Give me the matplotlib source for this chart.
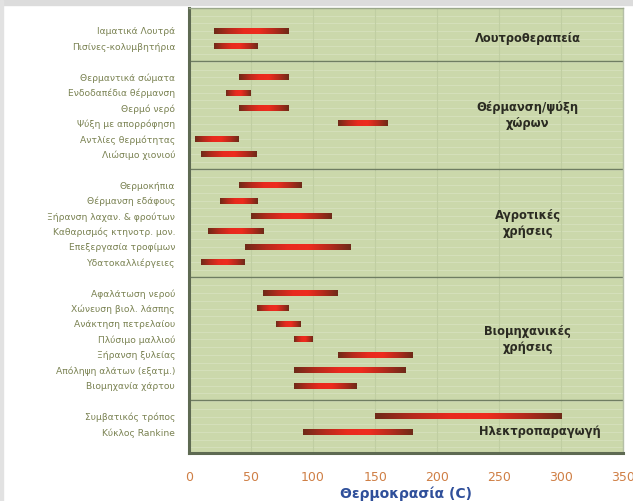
import numpy as np
import matplotlib
matplotlib.use("Agg")
import matplotlib.pyplot as plt
from matplotlib.colors import LinearSegmentedColormap

plt.rcParams['font.family'] = ['DejaVu Sans']

# ---- data ----
groups = ["Λουτροθεραπεία", "Θέρμανση/ψύξη\nχώρων", "Αγροτικές\nχρήσεις",
          "Βιομηχανικές\nχρήσεις", "Ηλεκτροπαραγωγή"]
labels_g1 = ["Ιαματικά Λουτρά", "Πισίνες-κολυμβητήρια"]
start_g1 = [20, 20]
end_g1 = [80, 55]
labels_g2 = ["Θερμαντικά σώματα", "Ενδοδαπέδια θέρμανση", "Θερμό νερό",
             "Ψύξη με απορρόφηση", "Αντλίες θερμότητας", "Λιώσιμο χιονιού"]
start_g2 = [40, 30, 40, 120, 5, 10]
end_g2 = [80, 50, 80, 160, 40, 55]
labels_g3 = ["Θερμοκήπια", "Θέρμανση εδάφους", "Ξήρανση λαχαν. & φρούτων",
             "Καθαρισμός κτηνοτρ. μον.", "Επεξεργασία τροφίμων", "Υδατοκαλλιέργειες"]
start_g3 = [40, 25, 50, 15, 45, 10]
end_g3 = [90, 55, 115, 60, 130, 45]
labels_g4 = ["Αφαλάτωση νερού", "Χώνευση βιολ. λάσπης", "Ανάκτηση πετρελαίου",
             "Πλύσιμο μαλλιού", "Ξήρανση ξυλείας", "Απόληψη αλάτων (εξατμ.)",
             "Βιομηχανία χάρτου"]
start_g4 = [60, 55, 70, 85, 120, 85, 85]
end_g4 = [120, 80, 90, 100, 180, 175, 135]
labels_g5 = ["Συμβατικός τρόπος", "Κύκλος Rankine"]
start_g5 = [150, 92]
end_g5 = [300, 180]
xticks = [0, 50, 100, 150, 200, 250, 300, 350]
xlabel = "Θερμοκρασία (C)"

all_labels = [labels_g1, labels_g2, labels_g3, labels_g4, labels_g5]
all_start = [start_g1, start_g2, start_g3, start_g4, start_g5]
all_end = [end_g1, end_g2, end_g3, end_g4, end_g5]

fig = plt.figure(figsize=(6.33, 5.01), dpi=100)
fig.patch.set_facecolor("white")
fig.patches.append(plt.Rectangle((0, 0.99), 1, 0.01, transform=fig.transFigure,
                                 color="#dcdcdc", zorder=0))
fig.patches.append(plt.Rectangle((0, 0), 0.004, 1, transform=fig.transFigure,
                                 color="#e2e2e2", zorder=0))

ax = fig.add_axes([0.2986, 0.096, 0.686, 0.888])
ax.set_facecolor("#cbd8ab")

cmap = LinearSegmentedColormap.from_list(
    "bar", ["#6e2a18", "#b52a1c", "#e82a1e", "#ee2c1e", "#b52a1c", "#6e2a18"])
grad = np.linspace(0, 1, 256).reshape(1, -1)

ypos = []
ylab = []
seps = []
group_centers = []
y = 0
for gi, (labs, st, en) in enumerate(zip(all_labels, all_start, all_end)):
    ys = []
    for lab, s, e in zip(labs, st, en):
        ax.imshow(grad, cmap=cmap, aspect="auto", extent=(s, e, y + 0.19, y - 0.19),
                  zorder=3, interpolation="bilinear")
        ypos.append(y)
        ylab.append(lab)
        ys.append(y)
        y += 1
    if gi == len(all_labels) - 1:
        group_centers.append(ys[-1])
    else:
        group_centers.append((ys[0] + ys[-1]) / 2)
    if gi < len(all_labels) - 1:
        seps.append(y - 0.05)
        y += 1

for k in np.arange(-1.5, 27.5, 0.5):
    ax.axhline(k, color="#d5e0bb", lw=0.7, zorder=1)
for xv in xticks:
    ax.axvline(xv, color="#c0cea2", lw=0.8, zorder=1)
for s in seps:
    ax.axhline(s, color="#6f7d62", lw=1.0, zorder=2)

ax.set_xlim(0, 350)
ax.set_ylim(27.36, -1.49)
ax.set_yticks(ypos)
ax.set_yticklabels(ylab, fontsize=6.6, color="#7a8252")
ax.tick_params(axis="y", length=0, pad=10)
ax.set_xticks(xticks)
ax.set_xticklabels([str(v) for v in xticks], fontsize=9, color="#cf7f45")
ax.tick_params(axis="x", length=0, pad=13)
ax.set_xlabel(xlabel, fontsize=10, color="#2f4f9a", fontweight="bold", labelpad=2)

gx = [273, 273, 273, 273, 283]
for g, gc, xx in zip(groups, group_centers, gx):
    ax.text(xx, gc, g, ha="center", va="center", fontsize=8.3, fontweight="bold",
            color="#2b2b22", linespacing=1.3, zorder=4)

for side, sp in ax.spines.items():
    sp.set_zorder(5)
ax.spines["left"].set_color("#5e6a52"); ax.spines["left"].set_linewidth(2.2)
ax.spines["bottom"].set_color("#5e6a52"); ax.spines["bottom"].set_linewidth(2.2)
ax.spines["top"].set_color("#9aa78a"); ax.spines["top"].set_linewidth(1.0)
ax.spines["right"].set_color("#b5bfa7"); ax.spines["right"].set_linewidth(1.0)

fig.savefig("out.png", dpi=100)
